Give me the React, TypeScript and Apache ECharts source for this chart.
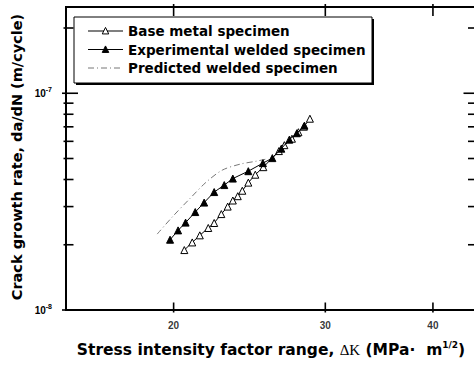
import React, { useEffect, useRef } from "react";
import * as echarts from "echarts";

// Axis ranges (log-log)
const X_MIN = 15;
const X_MAX = 45;
const Y_MIN = 1e-8;
const Y_MAX = 2.5e-7;

// Tick positions
const xTickValues = [20, 30, 40];
const yMajorTicks = [1e-8, 1e-7];
const yMinorTicks = [2e-8, 3e-8, 4e-8, 5e-8, 6e-8, 7e-8, 8e-8, 9e-8, 2e-7];

// Series names
const seriesNames = [
  "Base metal specimen",
  "Experimental welded specimen",
  "Predicted welded specimen",
];

// Base metal specimen
const baseK = [20.58, 21.02, 21.45, 21.94, 22.29, 22.72, 23.11, 23.43, 23.74, 24.03, 24.42, 24.88, 25.42, 26.5, 26.89, 27.44, 27.92, 28.33, 28.79];
const baseRate = [1.89e-8, 2.05e-8, 2.21e-8, 2.39e-8, 2.52e-8, 2.77e-8, 3.0e-8, 3.2e-8, 3.35e-8, 3.55e-8, 3.87e-8, 4.21e-8, 4.56e-8, 5.41e-8, 5.76e-8, 6.17e-8, 6.61e-8, 7.01e-8, 7.63e-8];

// Experimental welded specimen
const expK = [19.81, 20.24, 20.65, 21.19, 21.7, 22.29, 22.9, 23.43, 24.42, 25.39, 26.04, 26.67, 27.25, 27.8, 28.37];
const expRate = [2.11e-8, 2.33e-8, 2.53e-8, 2.83e-8, 3.13e-8, 3.5e-8, 3.77e-8, 4.04e-8, 4.37e-8, 4.76e-8, 5.02e-8, 5.55e-8, 6.11e-8, 6.54e-8, 7.09e-8];

// Predicted welded specimen
const predK = [19.14, 19.97, 20.91, 21.82, 22.78, 23.9, 24.95, 25.63];
const predRate = [2.24e-8, 2.71e-8, 3.28e-8, 3.89e-8, 4.42e-8, 4.71e-8, 4.86e-8, 4.97e-8];

const zip = (a: number[], b: number[]) => a.map((v, i) => [v, b[i]]);

const PRED_DASH = [6, 3, 1, 3];
const PRED_COLOR = "#777";
const TW = 1.6;

// tick-mark scatter series (drawn through the axes' scales)
const tickSeries = (name: string, data: number[][], size: number[], offset: number[]) => ({
  name,
  type: "scatter",
  data,
  symbol: "rect",
  symbolSize: size,
  symbolOffset: offset,
  clip: false,
  silent: true,
  itemStyle: { color: "#000", opacity: 1 },
  emphasis: { disabled: true },
  z: 10,
});

export default function App() {
  const ref = useRef<HTMLDivElement>(null);

  useEffect(() => {
    document.body.style.margin = "0";
    const chart = echarts.init(ref.current!, null, { renderer: "svg" });

    const graphic: any[] = [
      {
        id: "xtitle",
        type: "text",
        x: 271,
        y: 350,
        style: {
          text: "{b|Stress intensity factor range, }{g|ΔK}{b| (MPa·  m}{s|1/2}{b|)}",
          align: "center",
          verticalAlign: "middle",
          rich: {
            b: { fontFamily: "DejaVu Sans", fontWeight: "bold", fontSize: 15.5, fill: "#000", lineHeight: 20 },
            g: { fontFamily: "Liberation Serif", fontSize: 15, fill: "#000", lineHeight: 20 },
            s: { fontFamily: "DejaVu Sans", fontWeight: "bold", fontSize: 9, fill: "#000", verticalAlign: "top" },
          },
        },
      },
      {
        id: "ytitle",
        type: "text",
        x: 17,
        y: 157,
        rotation: Math.PI / 2,
        style: {
          text: "Crack growth rate, da/dN (m/cycle)",
          fontFamily: "DejaVu Sans",
          fontWeight: "bold",
          fontSize: 14.5,
          fill: "#000",
          align: "center",
          verticalAlign: "middle",
        },
      },
    ];

    // Manual legend
    const LX = 74, LY = 17, LW = 298, LH = 66;
    const rowsY = [31, 49.5, 68];
    graphic.push(
      { id: "lg-shadow", type: "rect", z: 20, shape: { x: LX + 2, y: LY + 2, width: LW, height: LH }, style: { fill: "#000" } },
      { id: "lg-box", type: "rect", z: 21, shape: { x: LX, y: LY, width: LW, height: LH }, style: { fill: "#fff", stroke: "#000", lineWidth: 1 } }
    );
    const tri = (cx: number, cy: number, s: number) => [
      [cx, cy - s * 0.55],
      [cx + s * 0.5, cy + s * 0.45],
      [cx - s * 0.5, cy + s * 0.45],
    ];
    seriesNames.forEach((name, i) => {
      const y = rowsY[i];
      if (i < 2) {
        graphic.push({ id: "lg-l" + i, type: "line", z: 22, shape: { x1: 88, y1: y, x2: 123, y2: y }, style: { stroke: "#000", lineWidth: 1.2 } });
        graphic.push({
          id: "lg-m" + i,
          type: "polygon",
          z: 23,
          shape: { points: tri(105.5, y, 6.5) },
          style: { fill: i === 0 ? "#fff" : "#000", stroke: "#000", lineWidth: 1 },
        });
      } else {
        graphic.push({ id: "lg-l" + i, type: "line", z: 22, shape: { x1: 88, y1: y, x2: 123, y2: y }, style: { stroke: PRED_COLOR, lineWidth: 1, lineDash: PRED_DASH } });
      }
      graphic.push({
        id: "lg-t" + i,
        type: "text",
        z: 23,
        x: 128,
        y: y,
        style: {
          text: name,
          fontFamily: "DejaVu Sans",
          fontWeight: "bold",
          fontSize: 13.5,
          fill: "#000",
          align: "left",
          verticalAlign: "middle",
        },
      });
    });

    const option: any = {
      animation: false,
      backgroundColor: "#fff",
      grid: {
        left: 66,
        top: 7,
        width: 411,
        height: 303,
        outerBoundsMode: "none",
        containLabel: false,
        show: true,
        borderColor: "#000",
        borderWidth: 2,
        backgroundColor: "transparent",
      },
      xAxis: {
        type: "log",
        logBase: 10,
        min: X_MIN,
        max: X_MAX,
        axisLine: { show: true, lineStyle: { color: "#000", width: 2 } },
        axisTick: { show: false },
        axisLabel: { show: false },
        splitLine: { show: false },
        minorTick: { show: false },
      },
      yAxis: {
        type: "log",
        logBase: 10,
        min: Y_MIN,
        max: Y_MAX,
        axisLine: { show: true, lineStyle: { color: "#000", width: 2 } },
        axisTick: { show: false },
        splitLine: { show: false },
        minorTick: { show: false },
        axisLabel: {
          show: true,
          margin: 14,
          showMaxLabel: false,
          formatter: (v: number) => {
            const e = Math.log10(v);
            if (Math.abs(e - Math.round(e)) > 1e-6) return "";
            return `{b|10}{s|${Math.round(e)}}`;
          },
          rich: {
            b: { fontFamily: "Liberation Sans", fontWeight: "bold", fontSize: 10, color: "#000", lineHeight: 14 },
            s: { fontFamily: "Liberation Sans", fontWeight: "bold", fontSize: 7, color: "#000", verticalAlign: "top" },
          },
        },
      },
      graphic,
      series: [
        {
          name: seriesNames[0],
          type: "line",
          data: zip(baseK, baseRate),
          symbol: "triangle",
          symbolSize: 7,
          showSymbol: true,
          lineStyle: { color: "#000", width: 1 },
          itemStyle: { color: "#fff", borderColor: "#000", borderWidth: 1 },
          z: 3,
        },
        {
          name: seriesNames[1],
          type: "line",
          data: zip(expK, expRate),
          symbol: "triangle",
          symbolSize: 7,
          showSymbol: true,
          lineStyle: { color: "#000", width: 1 },
          itemStyle: { color: "#000", borderColor: "#000", borderWidth: 1 },
          z: 4,
        },
        {
          name: seriesNames[2],
          type: "line",
          data: zip(predK, predRate),
          showSymbol: false,
          symbol: "none",
          smooth: 0.3,
          lineStyle: { color: PRED_COLOR, width: 1, type: PRED_DASH },
          z: 2,
        },
        tickSeries("xTickBottom", xTickValues.map((v) => [v, Y_MIN]), [TW, 10], [0, -2.5]),
        tickSeries("xTickTop", xTickValues.map((v) => [v, Y_MAX]), [TW, 12], [0, 3]),
        tickSeries("yMajorLeft", yMajorTicks.map((v) => [X_MIN, v]), [16, TW], [4, 0]),
        tickSeries("yMinorLeft", yMinorTicks.map((v) => [X_MIN, v]), [10, TW], [2.5, 0]),
        tickSeries("yMajorRight", yMajorTicks.map((v) => [X_MAX, v]), [18, TW], [-4.5, 0]),
        tickSeries("yMinorRight", yMinorTicks.map((v) => [X_MAX, v]), [12, TW], [-3, 0]),
        {
          name: "xTickLabels",
          type: "scatter",
          data: xTickValues.map((v) => [v, Y_MIN]),
          symbol: "rect",
          symbolSize: 0,
          clip: false,
          silent: true,
          label: {
            show: true,
            position: "bottom",
            distance: 10,
            formatter: (p: any) => String(p.value[0]),
            fontFamily: "Liberation Sans",
            fontWeight: "bold",
            fontSize: 10,
            color: "#000",
          },
          z: 10,
        },
      ],
    };

    chart.setOption(option);
    return () => chart.dispose();
  }, []);

  return <div ref={ref} style={{ width: 474, height: 368 }} />;
}
